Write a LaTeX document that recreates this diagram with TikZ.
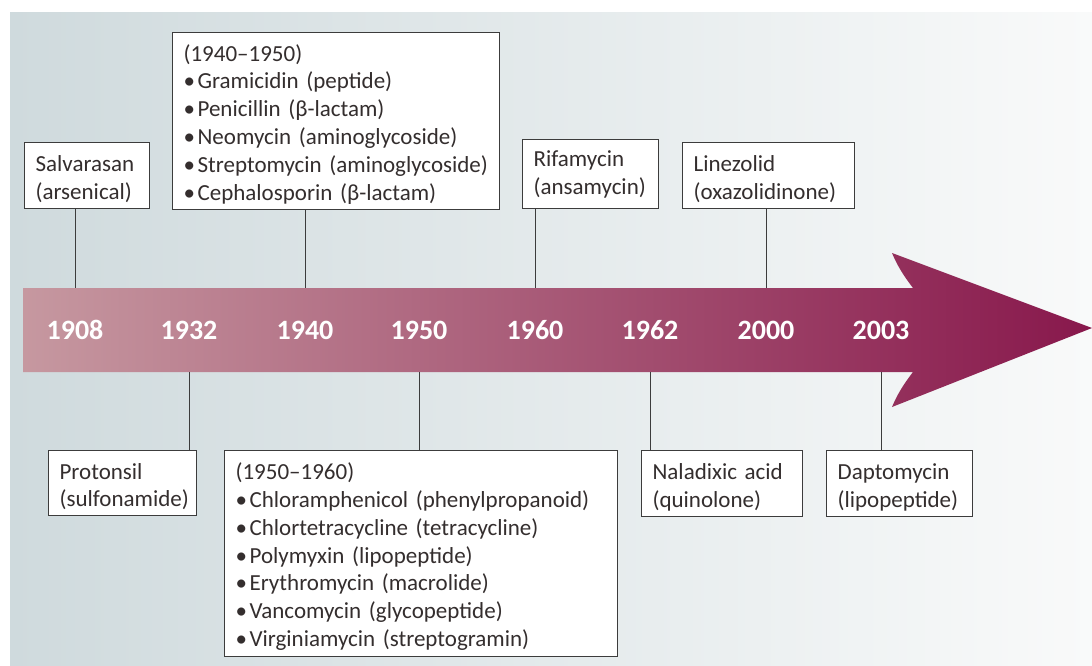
\documentclass[tikz,border=0pt]{standalone}
\usepackage{fontspec}
\setmainfont{Carlito}[WordSpace=0.7]
\definecolor{bgL}{RGB}{207,218,221}
\definecolor{bgR}{RGB}{249,250,250}
\definecolor{arL}{RGB}{198,152,160}
\definecolor{arR}{RGB}{136,24,76}
\definecolor{boxline}{RGB}{60,60,60}
\definecolor{txt}{RGB}{52,46,46}
\newcommand{\bul}{\makebox[14pt][l]{•}}
\newcommand{\tst}{\rule{0pt}{23pt}}
\begin{document}
\begin{tikzpicture}[x=1pt,y=-1pt,
  box/.style={draw=boxline, line width=1.2pt, fill=white, anchor=north west,
    inner xsep=11pt, inner ysep=0pt, align=left, text=txt,
    font=\fontsize{23}{27.8}\selectfont},
  yr/.style={text=white, font=\fontsize{28}{30}\selectfont\bfseries, inner sep=0pt},
  conn/.style={draw=boxline, line width=1pt}]
\useasboundingbox (0,0) rectangle (1092,666);
% background
\shade[left color=bgL, right color=bgR] (10,13) rectangle (1092,666);
% arrow
\shade[left color=arL, right color=arR]
  (23,288) -- (913,288) .. controls (903,275) and (897,265) .. (892,253)
  -- (1092,328) -- (892,407) .. controls (897,395) and (903,385) .. (913,372)
  -- (23,372) -- cycle;
% years
\foreach \yy/\xx in {1908/75,1932/189,1940/305,1950/419,1960/535,1962/650,2000/766,2003/881}{
  \node[yr] (y\yy) at (\xx,330) {\yy};
  \coordinate (t\yy) at (\xx,288);
  \coordinate (b\yy) at (\xx,372);
}
% boxes above
\node[box, minimum width=125pt, minimum height=66pt, text width=103pt] (salv) at (24,142)
  {\tst Salvarasan\\(arsenical)};
\node[box, minimum width=327pt, minimum height=177pt, text width=305pt] (b40) at (172,32)
  {\tst(1940–1950)\\\bul Gramicidin (peptide)\\\bul Penicillin (β-lactam)\\\bul Neomycin (aminoglycoside)\\\bul Streptomycin (aminoglycoside)\\\bul Cephalosporin (β-lactam)};
\node[box, minimum width=136pt, minimum height=69pt, text width=114pt] (rif) at (522,139)
  {Rifamycin\\(ansamycin)};
\node[box, minimum width=172pt, minimum height=66pt, text width=150pt] (lin) at (682,142)
  {\tst Linezolid\\(oxazolidinone)};
% boxes below
\node[box, minimum width=148pt, minimum height=65pt, text width=126pt] (prot) at (48,450)
  {\tst Protonsil\\(sulfonamide)};
\node[box, minimum width=393pt, minimum height=206pt, text width=371pt] (b50) at (224,450)
  {\tst(1950–1960)\\\bul Chloramphenicol (phenylpropanoid)\\\bul Chlortetracycline (tetracycline)\\\bul Polymyxin (lipopeptide)\\\bul Erythromycin (macrolide)\\\bul Vancomycin (glycopeptide)\\\bul Virginiamycin (streptogramin)};
\node[box, minimum width=161pt, minimum height=66pt, text width=139pt] (nal) at (641,450)
  {\tst Naladixic acid\\(quinolone)};
\node[box, minimum width=146pt, minimum height=66pt, text width=124pt] (dap) at (826,450)
  {\tst Daptomycin\\(lipopeptide)};
% connectors
\draw[conn] (salv.south -| t1908) -- (t1908);
\draw[conn] (b40.south -| t1940) -- (t1940);
\draw[conn] (rif.south -| t1960) -- (t1960);
\draw[conn] (lin.south -| t2000) -- (t2000);
\draw[conn] (b1932) -- (prot.north -| b1932);
\draw[conn] (b1950) -- (b50.north -| b1950);
\draw[conn] (b1962) -- (nal.north -| b1962);
\draw[conn] (b2003) -- (dap.north -| b2003);
\end{tikzpicture}
\end{document}
